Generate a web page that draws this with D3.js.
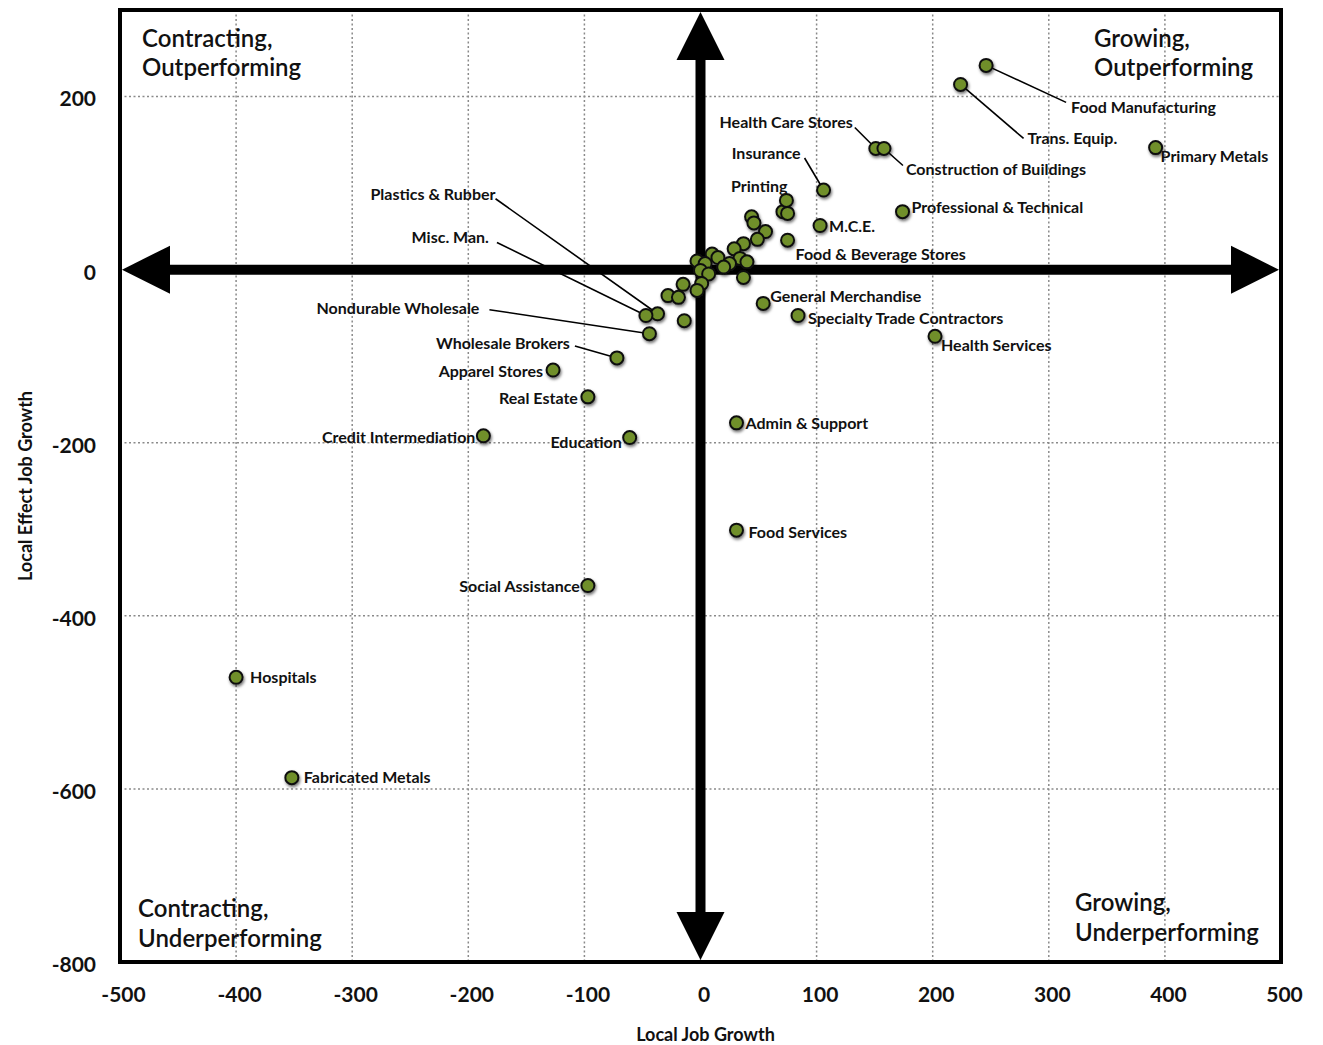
<!DOCTYPE html>
<html>
<head>
<meta charset="utf-8">
<script src="https://cdn.jsdelivr.net/npm/d3@7"></script>
<style>
  body { margin: 0; background: #fff; }
  text { font-family: Lato, "Open Sans", sans-serif; font-weight: 700; fill: #111; }
</style>
</head>
<body>
<svg id="chart" width="1323" height="1045"></svg>
<script>
// labelled industries: [name, local job growth, local effect job growth]
const labelled = [
  ["Food Manufacturing", 246, 236],
  ["Trans. Equip.", 224, 214],
  ["Primary Metals", 392, 141],
  ["Health Care Stores", 151, 140],
  ["Construction of Buildings", 158, 140],
  ["Insurance", 106, 92],
  ["Printing", 74, 80],
  ["M.C.E.", 103, 51],
  ["Professional & Technical", 174, 67],
  ["Food & Beverage Stores", 75, 34],
  ["General Merchandise", 54, -39],
  ["Specialty Trade Contractors", 84, -53],
  ["Health Services", 202, -77],
  ["Admin & Support", 31, -177],
  ["Food Services", 31, -301],
  ["Social Assistance", -97, -365],
  ["Hospitals", -400, -471],
  ["Fabricated Metals", -352, -587],
  ["Education", -61, -194],
  ["Credit Intermediation", -187, -192],
  ["Real Estate", -97, -147],
  ["Apparel Stores", -127, -116],
  ["Wholesale Brokers", -72, -102],
  ["Nondurable Wholesale", -44, -74],
  ["Plastics & Rubber", -37, -51],
  ["Misc. Man.", -47, -53]
];

// the unlabelled cluster near the origin
const clusterX = [71, 75, 44, 46, 56, 49, 37, 29, 10, 15, -3, 4, 34, 40, 25, 20, 0, 7, 37, -15, 1, -3, -28, -19, -14];
const clusterY = [67, 65, 61, 54, 44, 35, 30, 24, 18, 14, 10, 7, 13, 9, 7, 3, -1, -5, -9, -17, -16, -24, -30, -32, -59];

const xTicks = [-500, -400, -300, -200, -100, 0, 100, 200, 300, 400, 500];
const yTicks = [-800, -600, -400, -200, 0, 200];
const xTitle = "Local Job Growth";
const yTitle = "Local Effect Job Growth";
const quadrants = [
  ["Contracting,", "Outperforming"],
  ["Growing,", "Outperforming"],
  ["Contracting,", "Underperforming"],
  ["Growing,", "Underperforming"]
];

// label placement in pixels relative to the point: dx, dy, anchor, leader end (optional)
const layout = {
  "Food Manufacturing": [85, 41, "start", [80, 37]],
  "Trans. Equip.": [67, 53, "start", [63, 54]],
  "Primary Metals": [5, 8, "start"],
  "Health Care Stores": [-23, -27, "end", [-21, -21]],
  "Construction of Buildings": [22, 20, "start", [19, 17]],
  "Insurance": [-23, -38, "end", [-19, -32]],
  "Printing": [1, -15, "end"],
  "M.C.E.": [9, 0, "start"],
  "Professional & Technical": [9, -5, "start"],
  "Food & Beverage Stores": [8, 13, "start"],
  "General Merchandise": [7, -8, "start"],
  "Specialty Trade Contractors": [10, 2, "start"],
  "Health Services": [6, 8, "start"],
  "Admin & Support": [9, 0, "start"],
  "Food Services": [12, 1, "start"],
  "Social Assistance": [-8, 0, "end"],
  "Hospitals": [14, -1, "start"],
  "Fabricated Metals": [12, -1, "start"],
  "Education": [-8, 4, "end"],
  "Credit Intermediation": [-8, 1, "end"],
  "Real Estate": [-10, 1, "end"],
  "Apparel Stores": [-10, 0, "end"],
  "Wholesale Brokers": [-47, -15, "end", [-42, -12]],
  "Nondurable Wholesale": [-170, -26, "end", [-160, -24]],
  "Plastics & Rubber": [-162, -120, "end", [-162, -115]],
  "Misc. Man.": [-157, -79, "end", [-149, -73]]
};

const svg = d3.select("#chart");
const plotL = 120, plotR = 1281, plotT = 10, plotB = 962;

const x = d3.scaleLinear().domain([-500, 500]).range([plotL, plotR]);
const y = d3.scaleLinear().domain([-800, 300]).range([plotB, plotT]);

const defs = svg.append("defs");
defs.append("filter").attr("id", "shadow")
  .attr("x", "-50%").attr("y", "-50%").attr("width", "200%").attr("height", "200%")
  .append("feDropShadow")
  .attr("dx", 1).attr("dy", 2).attr("stdDeviation", 1.8)
  .attr("flood-color", "#000").attr("flood-opacity", 0.55);

// grid
const grid = svg.append("g").attr("stroke", "#8a8a8a").attr("stroke-width", 1.5).attr("stroke-dasharray", "2,2.5");
grid.selectAll(".vx").data(xTicks.slice(1, -1)).join("line")
  .attr("x1", d => x(d)).attr("x2", d => x(d)).attr("y1", plotT).attr("y2", plotB);
grid.selectAll(".hy").data(yTicks.filter(d => d > -800 && d !== 0)).join("line")
  .attr("y1", d => y(d)).attr("y2", d => y(d)).attr("x1", plotL).attr("x2", plotR);

// axis arrows through the origin
const arrows = svg.append("g");
const head = 48, half = 24;
arrows.append("line")
  .attr("x1", x(-500) + head).attr("x2", x(500) - head).attr("y1", y(0)).attr("y2", y(0))
  .attr("stroke", "#000").attr("stroke-width", 10);
arrows.append("line")
  .attr("y1", y(300) + head).attr("y2", y(-800) - head).attr("x1", x(0)).attr("x2", x(0))
  .attr("stroke", "#000").attr("stroke-width", 10);
const heads = [
  [[x(-500) + 2, y(0)], [x(-500) + head + 2, y(0) - half], [x(-500) + head + 2, y(0) + half]],
  [[x(500) - 2, y(0)], [x(500) - head - 2, y(0) - half], [x(500) - head - 2, y(0) + half]],
  [[x(0), y(300) + 2], [x(0) - half, y(300) + head + 2], [x(0) + half, y(300) + head + 2]],
  [[x(0), y(-800) - 2], [x(0) - half, y(-800) - head - 2], [x(0) + half, y(-800) - head - 2]]
];
arrows.selectAll("path").data(heads).join("path")
  .attr("d", d => "M" + d.join("L") + "Z").attr("fill", "#000");

// frame
svg.append("rect").attr("x", plotL).attr("y", plotT).attr("width", plotR - plotL).attr("height", plotB - plotT)
  .attr("fill", "none").attr("stroke", "#000").attr("stroke-width", 4);

// tick labels (plain hyphen for negatives, as in the original)
const xAxis = svg.append("g").attr("transform", `translate(0,${plotB})`)
  .call(d3.axisBottom(x).tickValues(xTicks).tickSize(0).tickPadding(25).tickFormat(d => String(d)));
const yAxis = svg.append("g").attr("transform", `translate(${plotL},0)`)
  .call(d3.axisLeft(y).tickValues(yTicks).tickSize(0).tickPadding(24).tickFormat(d => String(d)));
[xAxis, yAxis].forEach(a => {
  a.select(".domain").remove();
  a.selectAll("text").style("font-family", "Lato, sans-serif").style("font-weight", 700)
    .style("font-size", "21px").attr("fill", "#111");
});
xAxis.selectAll("text").attr("dx", 3);
yAxis.selectAll("text").attr("dy", "0.45em");

// axis titles
svg.append("text").attr("x", (plotL + plotR) / 2 + 5).attr("y", 1041)
  .attr("text-anchor", "middle").style("font-size", "18px").text(xTitle);
svg.append("text").attr("transform", `translate(32,${(plotT + plotB) / 2}) rotate(-90)`)
  .attr("text-anchor", "middle").style("font-size", "18px").text(yTitle);

// quadrant captions
const qPos = [[142, 37, 29], [1094, 37, 29], [138, 907, 30], [1075, 901, 30]];
quadrants.forEach((q, i) => {
  const t = svg.append("text").attr("x", qPos[i][0]).attr("y", qPos[i][1])
    .attr("dominant-baseline", "central").style("font-size", "24px").style("font-weight", 600);
  q.forEach((line, j) => t.append("tspan").attr("x", qPos[i][0]).attr("dy", j ? qPos[i][2] : 0).text(line));
});

// leader lines
const leaders = labelled.filter(d => layout[d[0]][3]);
svg.append("g").selectAll("line").data(leaders).join("line")
  .attr("x1", d => x(d[1])).attr("y1", d => y(d[2]))
  .attr("x2", d => x(d[1]) + layout[d[0]][3][0]).attr("y2", d => y(d[2]) + layout[d[0]][3][1])
  .attr("stroke", "#000").attr("stroke-width", 1.6);

// points
const pts = clusterX.map((v, i) => [v, clusterY[i]]).concat(labelled.map(d => [d[1], d[2]]));
svg.append("g").attr("filter", "url(#shadow)").selectAll("circle").data(pts).join("circle")
  .attr("cx", d => x(d[0])).attr("cy", d => y(d[1])).attr("r", 6.5)
  .attr("fill", "#6f8f2c").attr("stroke", "#111").attr("stroke-width", 2);

// point labels
svg.append("g").selectAll("text").data(labelled).join("text")
  .attr("x", d => x(d[1]) + layout[d[0]][0]).attr("y", d => y(d[2]) + layout[d[0]][1])
  .attr("text-anchor", d => layout[d[0]][2]).attr("dominant-baseline", "central")
  .style("font-size", "16px").text(d => d[0]);
</script>
</body>
</html>
